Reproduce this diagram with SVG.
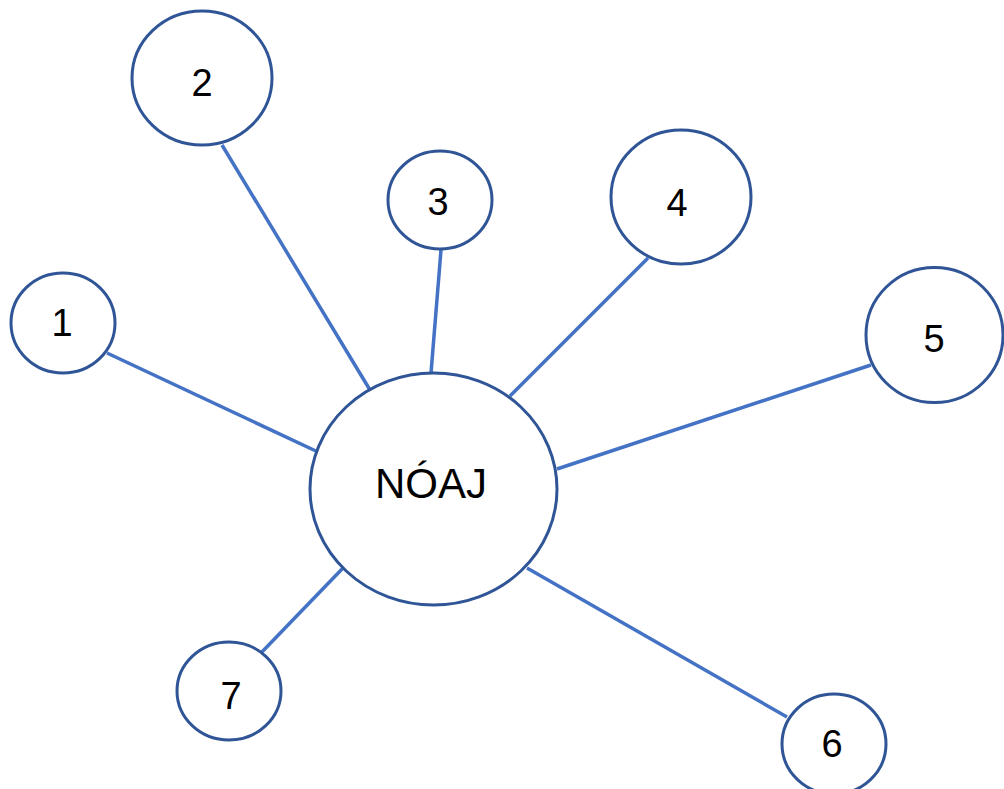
<svg xmlns="http://www.w3.org/2000/svg" width="1004" height="789" viewBox="0 0 1004 789">
<style>
.n{fill:#fff;stroke:#2F5597;stroke-width:3}
.t{font-family:"Liberation Sans",Arial,sans-serif;font-size:38px;fill:#000;text-anchor:middle}
.c line{stroke:#4472C4;stroke-width:3.5}
</style>
<rect width="1004" height="789" fill="#fff"/>
<g class="c" id="connectors">
<line x1="107" y1="353" x2="318" y2="452"/>
<line x1="222" y1="145" x2="370" y2="390"/>
<line x1="441" y1="250" x2="431" y2="373"/>
<line x1="648" y1="258" x2="510" y2="396"/>
<line x1="871" y1="365" x2="557" y2="469"/>
<line x1="527" y1="568" x2="787" y2="717"/>
<line x1="343" y1="568" x2="260" y2="654"/>
</g>
<g id="center"><ellipse class="n" cx="433.5" cy="489" rx="123.5" ry="116"/><text class="t" x="431" y="498" style="font-size:42px">NÓAJ</text></g>
<g id="n1"><ellipse class="n" cx="63" cy="323" rx="52" ry="50"/><text class="t" x="62" y="336">1</text></g>
<g id="n2"><ellipse class="n" cx="202" cy="78" rx="70" ry="67"/><text class="t" x="202" y="96">2</text></g>
<g id="n3"><ellipse class="n" cx="440" cy="200" rx="52" ry="49"/><text class="t" x="438" y="215">3</text></g>
<g id="n4"><ellipse class="n" cx="681" cy="197" rx="70" ry="67"/><text class="t" x="677" y="216">4</text></g>
<g id="n5"><ellipse class="n" cx="934.5" cy="335" rx="68.5" ry="67.5"/><text class="t" x="934" y="352">5</text></g>
<g id="n6"><ellipse class="n" cx="834" cy="744" rx="52" ry="50"/><text class="t" x="832" y="757">6</text></g>
<g id="n7"><ellipse class="n" cx="229" cy="691" rx="52" ry="49"/><text class="t" x="231" y="709">7</text></g>
</svg>
